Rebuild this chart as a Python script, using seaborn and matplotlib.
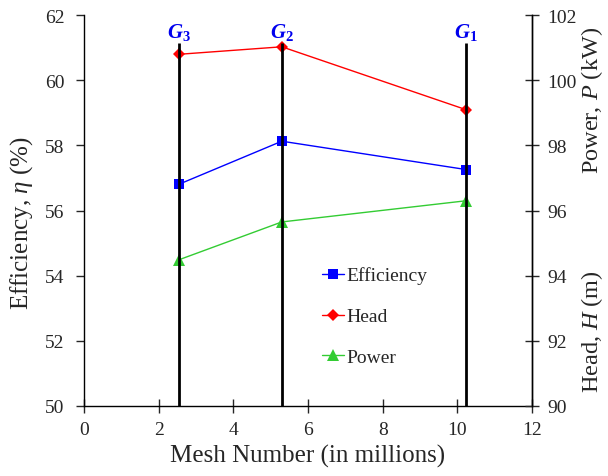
import numpy as np
import pandas as pd
import matplotlib
matplotlib.use("Agg")
import matplotlib.pyplot as plt
import seaborn as sns
from matplotlib.lines import Line2D

# Grid study data
grids = ["G3", "G2", "G1"]
grid_labels = [r"$\mathbfit{G}_\mathbf{3}$", r"$\mathbfit{G}_\mathbf{2}$", r"$\mathbfit{G}_\mathbf{1}$"]
mesh_millions = [2.55, 5.30, 10.23]
efficiency = [56.81, 58.13, 57.26]   # %
head = [100.80, 101.03, 99.10]       # m
power = [94.49, 95.65, 96.30]        # kW

df = pd.DataFrame({"mesh": mesh_millions, "efficiency": efficiency,
                   "head": head, "power": power, "grid": grids})

sns.set_style("ticks")
plt.rcParams["font.family"] = ["Liberation Serif", "DejaVu Serif"]
plt.rcParams["mathtext.fontset"] = "custom"
plt.rcParams["mathtext.rm"] = "Liberation Serif"
plt.rcParams["mathtext.it"] = "Liberation Serif:italic"
plt.rcParams["mathtext.bf"] = "Liberation Serif:bold"
plt.rcParams["mathtext.bfit"] = "Liberation Serif:italic:bold"

fig = plt.figure(figsize=(6.08, 4.77), dpi=100)
ax = fig.add_axes([0.138, 0.147, 0.737, 0.819])
ax2 = ax.twinx()

c_eff, c_head, c_pow = "#0000FF", "#FF0000", "#33CC33"

sns.lineplot(data=df, x="mesh", y="efficiency", ax=ax, color=c_eff, marker="s",
             markersize=7, markeredgewidth=0, linewidth=1.0)
sns.lineplot(data=df, x="mesh", y="head", ax=ax2, color=c_head, marker="D",
             markersize=6, markeredgewidth=0, linewidth=1.0)
sns.lineplot(data=df, x="mesh", y="power", ax=ax2, color=c_pow, marker="^",
             markersize=8, markeredgewidth=0, linewidth=1.0)

# Vertical guide lines for each grid
ax2.vlines(mesh_millions, 90, 101.15, colors="black", linewidth=2, zorder=5)
for xm, lab in zip(mesh_millions, grid_labels):
    ax2.text(xm, 101.5, lab, color="#0000EE", fontsize=15, ha="center", va="center",
             zorder=6)

ax.set_xlim(0, 12)
ax.set_ylim(50, 62)
ax2.set_ylim(90, 102)
ax.set_xticks(np.arange(0, 13, 2))
ax.set_yticks(np.arange(50, 63, 2))
ax2.set_yticks(np.arange(90, 103, 2))

ax.set_xlabel("Mesh Number (in millions)", fontsize=18, labelpad=4)
ax.set_ylabel("")
ax2.set_ylabel("")

for a in (ax, ax2):
    a.spines["top"].set_visible(False)
    for s in a.spines.values():
        s.set_linewidth(1.0)
        s.set_color("black")

ax.tick_params(axis="y", direction="out", length=6, width=1, labelsize=14, pad=8)
ax.tick_params(axis="x", direction="inout", length=10, width=1, labelsize=14, pad=6)
ax2.tick_params(axis="y", direction="inout", length=10, width=1, labelsize=14, pad=6)
ax2.spines["left"].set_visible(False)
ax2.spines["bottom"].set_visible(False)

fig.text(0.036, 0.532, r"Efficiency, $\mathit{\eta}$ (%)", rotation=90, fontsize=18,
         ha="center", va="center")
fig.text(0.974, 0.79, r"Power, $\mathit{P}$ (kW)", rotation=90, fontsize=17.5,
         ha="center", va="center")
fig.text(0.974, 0.304, r"Head, $\mathit{H}$ (m)", rotation=90, fontsize=17.5,
         ha="center", va="center")

handles = [
    Line2D([], [], color=c_eff, marker="s", markersize=7, markeredgewidth=0, linewidth=1),
    Line2D([], [], color=c_head, marker="D", markersize=6, markeredgewidth=0, linewidth=1),
    Line2D([], [], color=c_pow, marker="^", markersize=8, markeredgewidth=0, linewidth=1),
]
ax2.legend(handles, ["Efficiency", "Head", "Power"], frameon=False, fontsize=14,
           handlelength=1.1, handletextpad=0.15, labelspacing=1.2,
           loc="upper left", bbox_to_anchor=(0.493, 0.4015))

fig.savefig("out.png", dpi=100)
